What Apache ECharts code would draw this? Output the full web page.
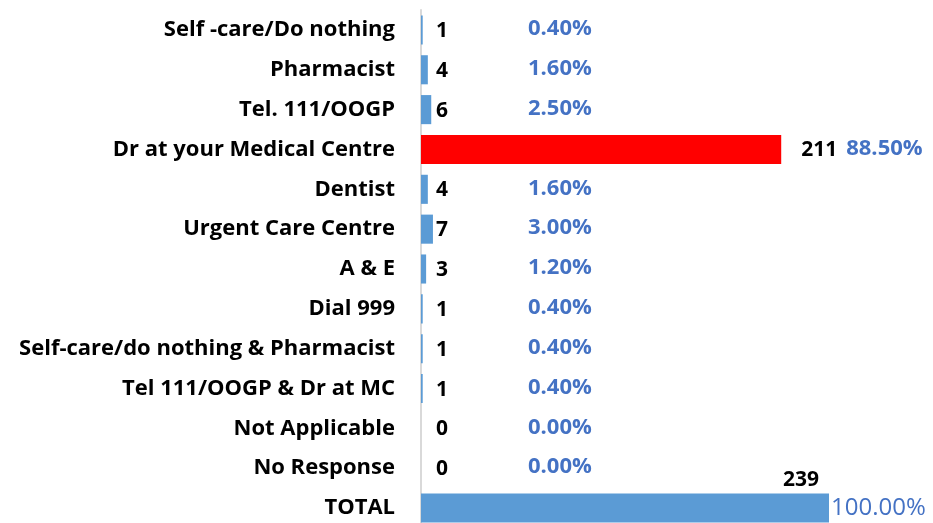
<!DOCTYPE html>
<html>
<head>
<meta charset="utf-8">
<script src="https://cdn.jsdelivr.net/npm/echarts@6/dist/echarts.min.js"></script>
<style>
    html, body {margin: 0; padding: 0; background: #fff; overflow: hidden;}
    #chart {width: 933px; height: 540px;}
</style>
</head>
<body>
<div id="chart"></div>
<script>
//类别
var categories = ["Self -care/Do nothing", "Pharmacist", "Tel. 111/OOGP", "Dr at your Medical Centre", "Dentist",
    "Urgent Care Centre", "A & E", "Dial 999", "Self-care/do nothing & Pharmacist", "Tel 111/OOGP & Dr at MC",
    "Not Applicable", "No Response", "TOTAL"];
//人数
var counts = [1, 4, 6, 211, 4, 7, 3, 1, 1, 1, 0, 0, 239];
//百分比
var percents = ["0.40%", "1.60%", "2.50%", "88.50%", "1.60%", "3.00%", "1.20%", "0.40%", "0.40%", "0.40%", "0.00%", "0.00%", "100.00%"];

var FONT = "Open Sans";
var BLUE = "#5b9bd5";
var HIGHLIGHT = "Dr at your Medical Centre";

//柱子 + 数量标签
function countData() {
    return counts.map(function (v, i) {
        var item = {value: v, itemStyle: {color: categories[i] === HIGHLIGHT ? "#ff0000" : BLUE}};
        if (categories[i] === "TOTAL") {
            item.label = {position: ["100%", 0], align: "right", verticalAlign: "bottom", offset: [-10, -3]};
        } else if (v > 100) {
            item.label = {position: "right", distance: 10};
        }
        return item;
    });
}

//百分比标签 (透明柱)
function pctData() {
    return counts.map(function (v, i) {
        var item = {value: v};
        if (categories[i] === "TOTAL") {
            item.label = {position: "right", distance: 2, offset: [0, 0], fontWeight: "normal", fontSize: 24};
        } else if (v > 100) {
            item.label = {position: "right", distance: 65, offset: [0, -1]};
        }
        return item;
    });
}

var chart = echarts.init(document.getElementById("chart"));
chart.setOption({
    animation: false,
    grid: {left: 421, width: 478, top: 10, height: 518},
    xAxis: {type: "value", min: 0, max: 280, show: false},
    yAxis: {
        type: "category",
        inverse: true,
        data: categories,
        axisLine: {show: true, lineStyle: {color: "#d9d9d9", width: 2}},
        axisTick: {show: false},
        axisLabel: {color: "#000", fontFamily: FONT, fontWeight: "bold", fontSize: 22, margin: 26}
    },
    series: [
        {
            name: "count",
            type: "bar",
            barWidth: "73%",
            data: countData(),
            label: {
                show: true,
                position: "insideLeft",
                offset: [10, 1],
                color: "#000",
                fontFamily: FONT,
                fontWeight: "bold",
                fontSize: 21
            }
        },
        {
            name: "percent",
            type: "bar",
            barWidth: "73%",
            barGap: "-100%",
            silent: true,
            itemStyle: {color: "rgba(0,0,0,0)"},
            data: pctData(),
            label: {
                show: true,
                position: "insideLeft",
                offset: [102, -1],
                color: "#4472c4",
                fontFamily: FONT,
                fontWeight: "bold",
                fontSize: 22,
                formatter: function (p) {
                    return percents[p.dataIndex];
                }
            }
        }
    ]
});
</script>
</body>
</html>
